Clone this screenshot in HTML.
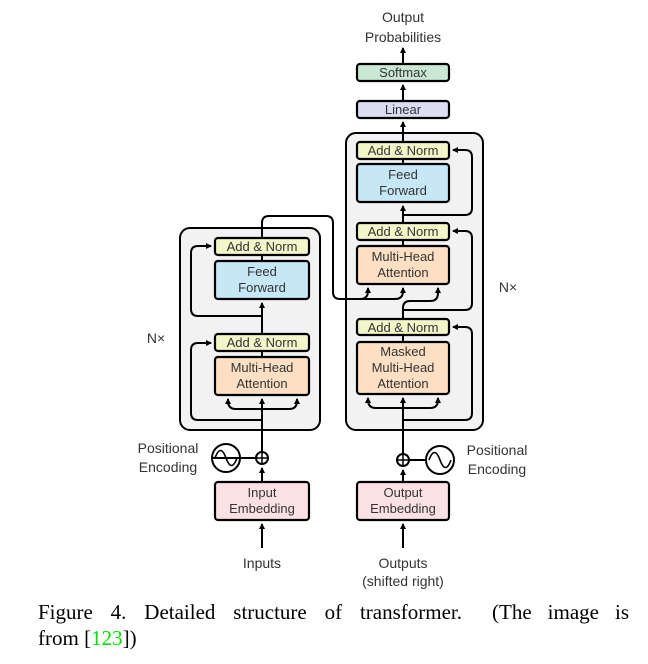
<!DOCTYPE html>
<html><head><meta charset="utf-8"><style>
html,body{margin:0;padding:0;background:#fff;width:648px;height:664px;overflow:hidden}
svg{position:absolute;left:0;top:0}
.t{font-family:"Liberation Sans",sans-serif;font-size:13px;fill:#333;text-anchor:middle}
.cap{position:absolute;font-family:"Liberation Serif",serif;font-size:21px;color:#000;line-height:26px;white-space:nowrap}
.j{text-align:justify;text-align-last:justify;white-space:normal}
</style></head><body>
<svg width="648" height="664" viewBox="0 0 648 664">
<defs><marker id="a" markerWidth="8" markerHeight="8" refX="5" refY="3" orient="auto" markerUnits="userSpaceOnUse"><path d="M0,0 L6,3 L0,6 z" fill="#000"/></marker></defs>
<g fill="none" stroke="#000" stroke-width="2">
<rect x="180" y="228" width="140" height="202" rx="10" fill="#f2f2f2"/>
<rect x="346" y="133" width="137" height="297" rx="10" fill="#f2f2f2"/>
</g>
<g stroke="#000" stroke-width="2.2">
<rect x="215" y="238" width="94" height="17" rx="3" fill="#f3f6c8"/>
<rect x="215" y="261" width="94" height="38" rx="3" fill="#c5e7f6"/>
<rect x="215" y="334" width="94" height="17" rx="3" fill="#f3f6c8"/>
<rect x="215" y="357" width="94" height="38" rx="3" fill="#fde0c3"/>
<rect x="215" y="482" width="94" height="38" rx="3" fill="#fbe1e4"/>
<rect x="357" y="64" width="92" height="17" rx="3" fill="#c9e9d5"/>
<rect x="357" y="101" width="92" height="17" rx="3" fill="#dcdcf3"/>
<rect x="357" y="142" width="92" height="17" rx="3" fill="#f3f6c8"/>
<rect x="357" y="164" width="92" height="38" rx="3" fill="#c5e7f6"/>
<rect x="357" y="223" width="92" height="17" rx="3" fill="#f3f6c8"/>
<rect x="357" y="246" width="92" height="38" rx="3" fill="#fde0c3"/>
<rect x="357" y="319" width="92" height="16" rx="3" fill="#f3f6c8"/>
<rect x="357" y="342" width="92" height="52" rx="3" fill="#fde0c3"/>
<rect x="357" y="482" width="92" height="38" rx="3" fill="#fbe1e4"/>
</g>
<g fill="none" stroke="#000" stroke-width="2">
<path d="M262 548 V524" marker-end="url(#a)"/>
<path d="M262 482 V468" marker-end="url(#a)"/>
<path d="M262 452 V399" marker-end="url(#a)"/>
<path d="M262 409 H236 q-8 0 -8 -8 V399" marker-end="url(#a)"/>
<path d="M262 409 H289 q8 0 8 -8 V399" marker-end="url(#a)"/>
<path d="M262 420 H198 q-7 0 -7 -7 V350 q0 -7 7 -7 H211" marker-end="url(#a)"/>
<path d="M262 357 V351 M262 334 V303" marker-end="url(#a)"/>
<path d="M262 316 H198 q-7 0 -7 -7 V253 q0 -7 7 -7 H211" marker-end="url(#a)"/>
<path d="M262 261 V255"/>
<path d="M262 238 V223 q0 -7 7 -7 H326 q7 0 7 7 V292 q0 7 7 7 H360 q8 0 8 -8 V288" marker-end="url(#a)"/>
<path d="M360 299 H395 q8 0 8 -8 V288" marker-end="url(#a)"/>
<path d="M212 458 H256"/>
<circle cx="226" cy="458" r="14"/>
<circle cx="262" cy="458" r="6"/>
<path d="M256 458 H268 M262 452 V464" stroke-width="1.5"/>
<path d="M215 458 q5.5 -15 11 0 q5.5 15 11 0" stroke-width="1.6"/>
<path d="M403 548 V524" marker-end="url(#a)"/>
<path d="M403 482 V470" marker-end="url(#a)"/>
<path d="M403 454 V398" marker-end="url(#a)"/>
<path d="M403 408 H376 q-8 0 -8 -8 V398" marker-end="url(#a)"/>
<path d="M403 408 H430 q8 0 8 -8 V398" marker-end="url(#a)"/>
<path d="M403 420 H465 q7 0 7 -7 V334 q0 -7 -7 -7 H453" marker-end="url(#a)"/>
<path d="M403 342 V335"/>
<path d="M403 319 V308 q0 -7 7 -7 H430 q8 0 8 -8 V288" marker-end="url(#a)"/>
<path d="M403 310 H465 q7 0 7 -7 V238 q0 -7 -7 -7 H453" marker-end="url(#a)"/>
<path d="M403 246 V240 M403 223 V206" marker-end="url(#a)"/>
<path d="M403 215 H465 q7 0 7 -7 V157 q0 -7 -7 -7 H453" marker-end="url(#a)"/>
<path d="M403 164 V159 M403 142 V122" marker-end="url(#a)"/>
<path d="M403 101 V85" marker-end="url(#a)"/>
<path d="M403 64 V48" marker-end="url(#a)"/>
<path d="M409 460 H426"/>
<circle cx="440" cy="460" r="14"/>
<circle cx="403" cy="460" r="6"/>
<path d="M397 460 H409 M403 454 V466" stroke-width="1.5"/>
<path d="M429 460 q5.5 -15 11 0 q5.5 15 11 0" stroke-width="1.6"/>
</g>
<g class="t">
<text x="262" y="251">Add &amp; Norm</text>
<text x="262" y="276">Feed</text><text x="262" y="292">Forward</text>
<text x="262" y="347">Add &amp; Norm</text>
<text x="262" y="372">Multi-Head</text><text x="262" y="388">Attention</text>
<text x="262" y="497">Input</text><text x="262" y="513">Embedding</text>
<text x="403" y="77">Softmax</text>
<text x="403" y="114">Linear</text>
<text x="403" y="155">Add &amp; Norm</text>
<text x="403" y="179">Feed</text><text x="403" y="195">Forward</text>
<text x="403" y="236">Add &amp; Norm</text>
<text x="403" y="261">Multi-Head</text><text x="403" y="277">Attention</text>
<text x="403" y="332">Add &amp; Norm</text>
<text x="403" y="356">Masked</text><text x="403" y="372">Multi-Head</text><text x="403" y="388">Attention</text>
<text x="403" y="497">Output</text><text x="403" y="513">Embedding</text>
<text x="403" y="22" font-size="14">Output</text><text x="403" y="42" font-size="14">Probabilities</text>
<text x="262" y="568" font-size="14">Inputs</text>
<text x="403" y="568" font-size="14">Outputs</text><text x="403" y="586" font-size="14">(shifted right)</text>
<text x="168" y="453" font-size="14">Positional</text><text x="168" y="472" font-size="14">Encoding</text>
<text x="497" y="455" font-size="14">Positional</text><text x="497" y="474" font-size="14">Encoding</text>
<text x="156" y="343" font-size="14">N×</text>
<text x="508" y="292" font-size="14">N×</text>
</g>
</svg>
<div class="cap j" style="top:599px;left:38px;width:424px">Figure 4. Detailed structure of transformer.</div>
<div class="cap j" style="top:599px;left:492px;width:137px">(The image is</div>
<div class="cap" style="top:625px;left:38px">from [<span style="color:#00e000">123</span>])</div>
</body></html>
